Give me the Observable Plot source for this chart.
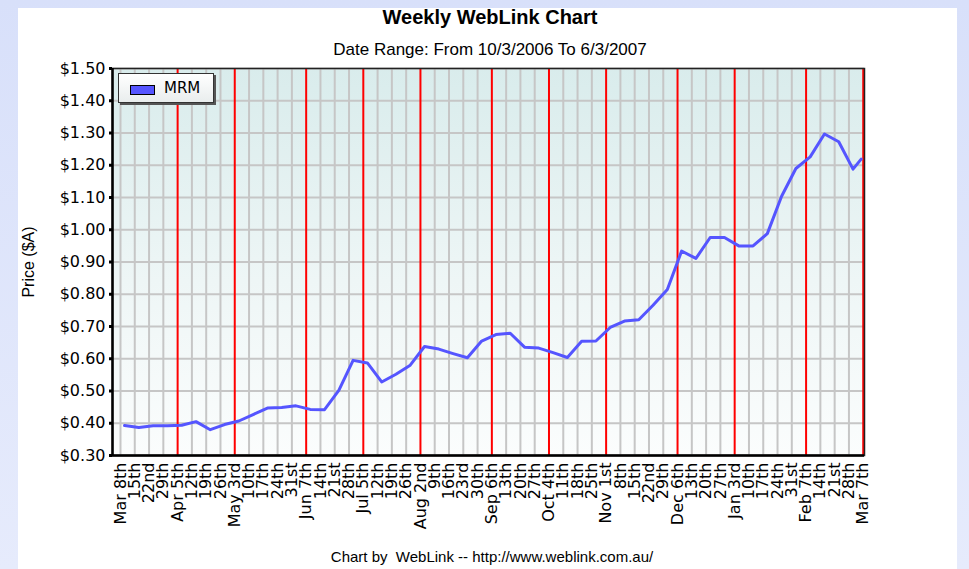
<!DOCTYPE html>
<html>
<head>
<meta charset="utf-8">
<script src="https://cdn.jsdelivr.net/npm/d3@7"></script>
<script src="https://cdn.jsdelivr.net/npm/@observablehq/plot@0.6"></script>
<style>
  body { margin:0; width:969px; height:569px; overflow:hidden; position:relative;
         background: linear-gradient(180deg, #d8e0fa, #e6ebfc); font-family:"Liberation Sans", Arial, sans-serif; }
  #panel { position:absolute; left:18px; top:8px; width:939px; height:561px; background:#fff; }
  #plotbg { position:absolute; left:112px; top:68px; width:752px; height:387px;
            background: linear-gradient(180deg, #d9ecec 0%, #eef6f6 55%, #fbfdfd 100%); }
  #title { position:absolute; left:0; width:980px; top:7px; text-align:center; font-weight:bold;
           font-size:20px; line-height:20px; }
  #subtitle { position:absolute; left:0; width:980px; top:41px; text-align:center;
              font-size:17px; line-height:17px; }
  #chart { position:absolute; left:0; top:58px; width:969px; }
  #legend { position:absolute; left:118px; top:73px; width:96px; height:30px; box-sizing:border-box;
            border:1px solid #333; background:linear-gradient(180deg,#ffffff,#e9eded);
            box-shadow: 2px 2px 0 #555; }
  #legend .sw { position:absolute; left:11px; top:11px; width:23px; height:8px; background:#5555ff; border:1px solid #000; }
  #legend .lab { position:absolute; left:45px; top:6px; font-family:"DejaVu Sans", sans-serif; font-size:15px; line-height:17px; }
  #footer { position:absolute; left:0; width:984px; top:549px; text-align:center; font-size:15px; line-height:15px; white-space:pre; }
</style>
</head>
<body>
<div id="panel"></div>
<div id="plotbg"></div>
<div id="title">Weekly WebLink Chart</div>
<div id="subtitle">Date Range: From 10/3/2006 To 6/3/2007</div>
<div id="chart"></div>
<div id="legend"><span class="sw"></span><span class="lab">MRM</span></div>
<div id="footer">Chart by  WebLink -- http://www.weblink.com.au/</div>
<script>
// Weekly gridline dates and their tick labels
const weekDates = ["2006-03-08","2006-03-15","2006-03-22","2006-03-29","2006-04-05","2006-04-12","2006-04-19","2006-04-26",
  "2006-05-03","2006-05-10","2006-05-17","2006-05-24","2006-05-31","2006-06-07","2006-06-14","2006-06-21","2006-06-28",
  "2006-07-05","2006-07-12","2006-07-19","2006-07-26","2006-08-02","2006-08-09","2006-08-16","2006-08-23","2006-08-30",
  "2006-09-06","2006-09-13","2006-09-20","2006-09-27","2006-10-04","2006-10-11","2006-10-18","2006-10-25",
  "2006-11-01","2006-11-08","2006-11-15","2006-11-22","2006-11-29","2006-12-06","2006-12-13","2006-12-20","2006-12-27",
  "2007-01-03","2007-01-10","2007-01-17","2007-01-24","2007-01-31","2007-02-07","2007-02-14","2007-02-21","2007-02-28","2007-03-07"];
const weekLabels = ["Mar 8th","15th","22nd","29th","Apr 5th","12th","19th","26th",
  "May 3rd","10th","17th","24th","31st","Jun 7th","14th","21st","28th",
  "Jul 5th","12th","19th","26th","Aug 2nd","9th","16th","23rd","30th",
  "Sep 6th","13th","20th","27th","Oct 4th","11th","18th","25th",
  "Nov 1st","8th","15th","22nd","29th","Dec 6th","13th","20th","27th",
  "Jan 3rd","10th","17th","24th","31st","Feb 7th","14th","21st","28th","Mar 7th"];

// MRM weekly closing prices
const priceDates = ["2006-03-10","2006-03-17","2006-03-24","2006-03-31","2006-04-07","2006-04-14","2006-04-21","2006-04-28",
  "2006-05-05","2006-05-12","2006-05-19","2006-05-26","2006-06-02","2006-06-09","2006-06-16","2006-06-23","2006-06-30",
  "2006-07-07","2006-07-14","2006-07-21","2006-07-28","2006-08-04","2006-08-11","2006-08-18","2006-08-25",
  "2006-09-01","2006-09-08","2006-09-15","2006-09-22","2006-09-29","2006-10-06","2006-10-13","2006-10-20","2006-10-27",
  "2006-11-03","2006-11-10","2006-11-17","2006-11-24","2006-12-01","2006-12-08","2006-12-15","2006-12-22","2006-12-29",
  "2007-01-05","2007-01-12","2007-01-19","2007-01-26","2007-02-02","2007-02-09","2007-02-16","2007-02-23","2007-03-02","2007-03-06"];
const prices = [0.393,0.387,0.392,0.392,0.394,0.405,0.380,0.396,
  0.407,0.427,0.447,0.449,0.454,0.443,0.442,0.502,0.595,
  0.587,0.528,0.552,0.580,0.638,0.630,0.616,0.603,
  0.655,0.675,0.679,0.636,0.633,0.619,0.604,0.654,0.655,
  0.697,0.717,0.721,0.766,0.815,0.934,0.911,0.976,0.976,
  0.950,0.950,0.988,1.104,1.190,1.226,1.297,1.273,1.188,1.219];

const yTicks = [0.3,0.4,0.5,0.6,0.7,0.8,0.9,1.0,1.1,1.2,1.3,1.4,1.5];
const seriesName = "MRM";
const yLabel = "Price ($A)";

const parse = d3.utcParse("%Y-%m-%d");
const weeks = weekDates.map((d, i) => ({date: parse(d), label: weekLabels[i], month: i > 0 && weekLabels[i].includes(" ")}));
const labelByTime = new Map(weeks.map(w => [w.date.getTime(), w.label]));
const series = priceDates.map((d, i) => ({date: parse(d), price: prices[i]}));

const x0 = new Date(Date.UTC(2006, 2, 4, 2));
const x1 = new Date(Date.UTC(2007, 2, 7, 15));

const chart = Plot.plot({
  width: 969, height: 487,
  marginTop: 10, marginBottom: 90, marginLeft: 112, marginRight: 105,
  style: {background: "transparent", fontFamily: "DejaVu Sans, sans-serif", fontSize: "15px", color: "#000"},
  x: {type: "utc", domain: [x0, x1], label: null},
  y: {domain: [0.3, 1.5], label: null},
  marks: [
    Plot.gridY(yTicks, {stroke: "#c6c6c6", strokeOpacity: 1, strokeWidth: 2}),
    Plot.ruleX(weeks.filter(w => !w.month), {x: "date", stroke: "#c6c6c6", strokeWidth: 2}),
    Plot.ruleX(weeks.filter(w => w.month), {x: "date", stroke: "#ff0000", strokeWidth: 2}),
    Plot.frame({stroke: "#222", strokeWidth: 1.5}),
    Plot.ruleY([0.3], {stroke: "#000", strokeWidth: 2.5}),
    Plot.ruleX([x0], {stroke: "#000", strokeWidth: 2.5}),
    Plot.line(series, {x: "date", y: "price", stroke: "#5555ff", strokeWidth: 3}),
    Plot.axisY(yTicks, {tickFormat: d3.format("$.2f"), tickSize: 3, tickPadding: 4, strokeWidth: 3, fontSize: 16, label: null}),
    Plot.axisX(weeks.map(w => w.date), {tickFormat: d => labelByTime.get(d.getTime()), tickRotate: -90, tickSize: 0, tickPadding: 7, fontSize: 16, label: null}),
    Plot.text([yLabel], {text: d => d, frameAnchor: "left", textAnchor: "middle", dx: -84, rotate: -90, fontSize: 16, fontFamily: "Liberation Sans, Arial, sans-serif"})
  ]
});
document.getElementById("chart").appendChild(chart);
document.querySelector("#legend .lab").textContent = seriesName;
</script>
</body>
</html>
